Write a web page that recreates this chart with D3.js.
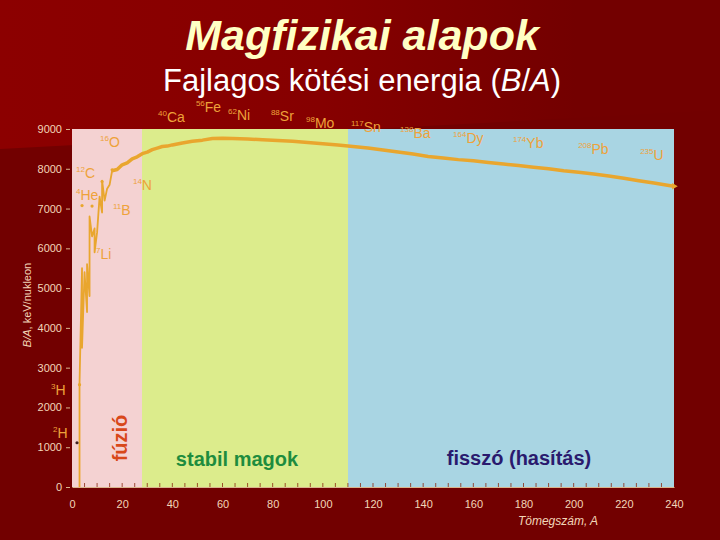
<!DOCTYPE html>
<html>
<head>
<meta charset="utf-8">
<script src="https://cdn.jsdelivr.net/npm/d3@7"></script>
<style>
  body { margin: 0; background: #720000; }
  svg { display: block; font-family: "Liberation Sans", Arial, sans-serif; }
</style>
</head>
<body>
<div id="chart"></div>
<script>
// binding energy per nucleon, keV
const massNumbers = [3, 3, 4, 4, 5, 6, 6, 7, 7, 8, 9, 9, 10, 11, 12, 12, 13, 14, 15,
  16, 18, 20, 22, 24, 26, 28, 30, 32, 34, 36, 38, 40, 44, 48, 52, 56, 60, 64, 70, 76,
  82, 88, 94, 100, 106, 112, 118, 124, 130, 136, 142, 148, 154, 160, 166, 172, 178,
  184, 190, 196, 202, 208, 214, 220, 226, 232, 238, 240];
const bindingPerNucleon = [0, 2600, 5500, 3500, 5400, 4400, 5600, 4800, 6800, 6300, 6500, 5900,
  6400, 7300, 6900, 7700, 7200, 7500, 7600,
  7950, 7980, 8100, 8150, 8250, 8300, 8380, 8420, 8480, 8520, 8560, 8570, 8600, 8650, 8690, 8720,
  8760, 8770, 8760, 8750, 8730, 8710, 8690, 8660, 8630, 8600, 8560, 8520, 8470, 8420, 8370,
  8310, 8270, 8230, 8200, 8160, 8120, 8080, 8040, 8000, 7950, 7910, 7870, 7820, 7760, 7700,
  7640, 7580, 7560];

// single nuclides drawn as dots
const dotMass = [2, 3, 4, 8, 12, 16];
const dotEnergy = [1112, 2573, 7074, 7062, 7680, 7976];

// regions along A
const regionNames = ["fúzió", "stabil magok", "fisszó (hasítás)"];
const regionFrom = [0, 28, 110];
const regionTo = [28, 110, 240];

// nuclide labels, anchored in data units (A, keV)
const isoMass = ["16", "12", "4", "14", "11", "7", "3", "2", "40", "56", "62", "88", "98",
  "117", "138", "164", "174", "208", "235"];
const isoSymbol = ["O", "C", "He", "N", "B", "Li", "H", "H", "Ca", "Fe", "Ni", "Sr", "Mo",
  "Sn", "Ba", "Dy", "Yb", "Pb", "U"];
const isoA = [11.2, 1.6, 1.6, 24.3, 16.3, 9.6, -8.4, -7.6, 34.3, 49.4, 62.2, 79.3, 93.3,
  111.2, 130.8, 151.9, 175.8, 201.8, 226.5];
const isoE = [8550, 7770, 7215, 7466, 6838, 5730, 2313, 1230, 9175, 9427, 9226, 9200, 9025,
  8924, 8773, 8648, 8522, 8371, 8220];

const xTicks = d3.range(0, 241, 20);
const yTicks = d3.range(0, 9001, 1000);

const W = 720, H = 540;
const regionFill = ["#f4d2d2", "#dcec8c", "#a9d5e3"];
const curveColor = "#e9a62e";
const labelColor = "#eea23a";
const axisText = "#f2d6b8";

const svg = d3.select("#chart").append("svg")
  .attr("width", W)
  .attr("height", H);

// background: dark red with lighter upper band
const defs = svg.append("defs");
const grad = defs.append("linearGradient")
  .attr("id", "band")
  .attr("x1", 0).attr("x2", 1).attr("y1", 0).attr("y2", 0);
grad.append("stop").attr("offset", "0%").attr("stop-color", "#8c0000");
grad.append("stop").attr("offset", "45%").attr("stop-color", "#860000");
grad.append("stop").attr("offset", "80%").attr("stop-color", "#730000");
svg.append("rect").attr("width", W).attr("height", H).attr("fill", "#720000");
svg.append("path")
  .attr("d", "M0,0L720,0L720,110L0,149Z")
  .attr("fill", "url(#band)");

const x = d3.scaleLinear().domain([0, 240]).range([72, 674]);
const y = d3.scaleLinear().domain([0, 9000]).range([487, 129]);

// title
svg.append("text")
  .attr("x", 362).attr("y", 50)
  .attr("text-anchor", "middle")
  .attr("font-size", 43)
  .attr("font-weight", "bold")
  .attr("font-style", "italic")
  .attr("fill", "#ffffc4")
  .text("Magfizikai alapok");

const sub = svg.append("text")
  .attr("x", 362).attr("y", 91)
  .attr("text-anchor", "middle")
  .attr("font-size", 31)
  .attr("fill", "#ffffff");
sub.append("tspan").text("Fajlagos kötési energia (");
sub.append("tspan").attr("font-style", "italic").text("B");
sub.append("tspan").text("/");
sub.append("tspan").attr("font-style", "italic").text("A");
sub.append("tspan").text(")");

// region backgrounds
svg.selectAll("rect.region")
  .data(regionNames)
  .enter().append("rect")
  .attr("class", "region")
  .attr("x", (d, i) => Math.round(x(regionFrom[i])))
  .attr("width", (d, i) => Math.round(x(regionTo[i])) - Math.round(x(regionFrom[i])))
  .attr("y", y(9000))
  .attr("height", y(0) - y(9000))
  .attr("shape-rendering", "crispEdges")
  .attr("fill", (d, i) => regionFill[i]);

// axes
const xAxis = d3.axisBottom(x).tickValues(xTicks).tickSize(0).tickPadding(13);
const gx = svg.append("g").attr("transform", "translate(0," + y(0) + ")").call(xAxis);
gx.select(".domain").attr("stroke", "#d9b48c").attr("stroke-width", 1);
gx.selectAll("text").attr("fill", axisText).attr("font-size", 11)
  .attr("font-family", "Liberation Sans, Arial, sans-serif");

// small inner ticks every 5
svg.append("g").selectAll("line")
  .data(d3.range(5, 240, 5))
  .enter().append("line")
  .attr("x1", d => x(d)).attr("x2", d => x(d))
  .attr("y1", y(0)).attr("y2", y(0) - 4)
  .attr("stroke", "#8a2a10").attr("stroke-width", 0.8);

const yAxis = d3.axisLeft(y).tickValues(yTicks).tickFormat(d3.format("d"))
  .tickSize(4).tickPadding(4);
const gy = svg.append("g").attr("transform", "translate(" + (x(0) - 2) + ",0)").call(yAxis);
gy.select(".domain").remove();
gy.selectAll("line").attr("stroke", "#d9b48c");
gy.selectAll("text").attr("fill", axisText).attr("font-size", 11)
  .attr("font-family", "Liberation Sans, Arial, sans-serif");

const yTitle = svg.append("text")
  .attr("transform", "translate(31,305) rotate(-90)")
  .attr("text-anchor", "middle")
  .attr("font-size", 11)
  .attr("fill", axisText);
yTitle.append("tspan").attr("font-style", "italic").text("B/A");
yTitle.append("tspan").text(", keV/nukleon");

svg.append("text")
  .attr("x", 558).attr("y", 525)
  .attr("text-anchor", "middle")
  .attr("font-size", 12)
  .attr("font-style", "italic")
  .attr("fill", axisText)
  .text("Tömegszám, A");

// region names
svg.append("text")
  .attr("transform", "translate(" + 127 + "," + 438 + ") rotate(-90)")
  .attr("text-anchor", "middle")
  .attr("font-size", 20).attr("font-weight", "bold")
  .attr("fill", "#d8481a")
  .text(regionNames[0]);
svg.append("text")
  .attr("x", 237).attr("y", 466)
  .attr("text-anchor", "middle")
  .attr("font-size", 20).attr("font-weight", "bold")
  .attr("fill", "#1e8c3e")
  .text(regionNames[1]);
svg.append("text")
  .attr("x", 519).attr("y", 465)
  .attr("text-anchor", "middle")
  .attr("font-size", 20).attr("font-weight", "bold")
  .attr("fill", "#2a1a6e")
  .text(regionNames[2]);

// curve: thin for the light nuclei, heavier band afterwards
const pts = massNumbers.map((a, i) => [a, bindingPerNucleon[i]]);
const split = massNumbers.indexOf(16);
const line = d3.line().x(d => x(d[0])).y(d => y(d[1]));
svg.append("path")
  .datum(pts.slice(0, split + 1))
  .attr("d", line)
  .attr("fill", "none")
  .attr("stroke", curveColor)
  .attr("stroke-width", 1.8)
  .attr("stroke-linejoin", "round");
svg.append("path")
  .datum(pts.slice(split))
  .attr("d", line)
  .attr("fill", "none")
  .attr("stroke", curveColor)
  .attr("stroke-width", 3.5)
  .attr("stroke-linejoin", "round");

svg.append("g").selectAll("circle")
  .data(dotMass)
  .enter().append("circle")
  .attr("cx", d => x(d))
  .attr("cy", (d, i) => y(dotEnergy[i]))
  .attr("r", 1.6)
  .attr("fill", (d, i) => i == 0 ? "#402020" : curveColor);

// end marker
const last = pts[pts.length - 1];
svg.append("path")
  .attr("d", d3.symbol().type(d3.symbolTriangle).size(18))
  .attr("transform", "translate(" + x(last[0]) + "," + y(last[1]) + ") rotate(90)")
  .attr("fill", curveColor);

// nuclide labels
const lab = svg.append("g").selectAll("text")
  .data(isoSymbol)
  .enter().append("text")
  .attr("x", (d, i) => x(isoA[i]))
  .attr("y", (d, i) => y(isoE[i]))
  .attr("fill", labelColor);
lab.append("tspan")
  .attr("font-size", 8)
  .attr("dy", -6)
  .text((d, i) => isoMass[i]);
lab.append("tspan")
  .attr("font-size", 14)
  .attr("dy", 6)
  .text(d => d);
</script>
</body>
</html>
